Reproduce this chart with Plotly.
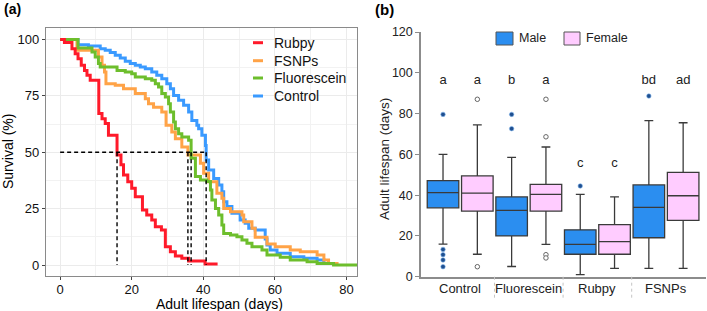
import plotly.graph_objects as go

# ---------------- data ----------------
# Panel (a): Kaplan-Meier style survival steps (day, survival %)
rubpy_t = [0, 1.2, 3.3, 4.2, 5.0, 5.9, 6.8, 7.5, 8.4, 10.8, 11.7, 12.6, 13.5, 15.9, 17.0, 17.7, 18.9, 20.0, 21.0,
           23.0, 24.2, 25.6, 26.6, 28.3, 29.4, 30.8, 32.2, 34.0, 35.9, 40.5, 44.0]
rubpy_s = [100, 98.7, 95.9, 93.7, 91.5, 88.6, 86.3, 84.1, 81.9, 67.2, 64.9, 62.7, 57.5, 48.8, 44.5, 39.9, 36.9, 34.0,
           30.3, 24.4, 22.2, 20.0, 17.0, 15.5, 8.1, 5.9, 4.0, 3.0, 1.8, 0.4, 0.4]

fsnps_t = [0, 4.7, 10.7, 11.7, 12.4, 12.8, 15.4, 17.7, 21.0, 23.8, 24.7, 26.1, 28.4, 29.6, 31.2, 32.2, 34.0, 35.7,
           39.2, 40.1, 41.5, 43.8, 45.2, 45.7, 47.6, 50.8, 51.3, 53.6, 54.5, 57.8, 60.1, 64.3, 67.1, 71.8, 73.7,
           75.0, 77.8]
fsnps_s = [100, 95.2, 92.2, 88.6, 85.6, 80.4, 79.7, 78.2, 76.0, 73.7, 71.5, 70.0, 67.8, 62.0, 59.0, 56.0, 52.3, 48.8,
           45.1, 40.7, 36.9, 31.8, 29.6, 25.1, 23.6, 22.2, 19.2, 16.3, 12.3, 9.3, 8.1, 6.7, 5.9, 4.4, 2.2, 0.7, 0.7]

fluo_t = [0, 5.0, 8.9, 9.8, 10.7, 11.2, 15.9, 18.2, 20.0, 21.0, 23.8, 25.6, 26.6, 27.5, 28.4, 29.4, 30.3, 30.8,
          31.7, 32.2, 33.1, 34.0, 35.9, 36.6, 37.8, 39.2, 41.0, 42.0, 42.4, 43.4, 44.3, 45.2, 45.7, 47.6, 49.4,
          50.8, 52.2, 53.6, 56.4, 57.8, 61.5, 64.3, 69.0, 71.8, 76.4, 84.0]
fluo_s = [100, 96.2, 94.5, 92.2, 89.3, 87.8, 86.3, 85.6, 84.8, 83.4, 82.6, 81.9, 80.4, 78.9, 76.0, 74.5, 71.5, 67.8,
          63.4, 60.4, 58.2, 56.8, 55.3, 47.3, 39.2, 37.7, 37.0, 33.3, 28.8, 25.1, 22.2, 17.7, 14.0, 13.3, 12.5,
          11.1, 9.6, 8.1, 6.7, 4.4, 3.4, 2.2, 1.5, 0.7, 0.0, 0.0]

ctrl_t = [0, 5.0, 7.9, 11.2, 12.6, 14.0, 15.4, 16.8, 18.2, 19.6, 21.0, 22.4, 23.8, 25.6, 27.0, 28.4, 29.8, 30.8,
          31.7, 33.1, 34.5, 35.9, 36.8, 38.2, 38.7, 39.6, 40.6, 40.8, 41.5, 42.9, 44.3, 45.2, 45.7, 46.6, 48.0,
          50.3, 51.7, 52.7, 54.5, 57.3, 57.8, 58.7, 60.6, 64.3, 68.1, 71.8, 73.7, 75.5]
ctrl_s = [100, 97.7, 97.1, 95.9, 95.2, 94.2, 93.0, 91.8, 90.3, 89.3, 88.6, 87.8, 87.0, 85.6, 84.1, 82.6, 80.4, 78.2,
          75.2, 73.0, 70.8, 67.8, 64.1, 62.0, 60.4, 57.5, 53.0, 46.6, 42.1, 38.4, 35.5, 32.5, 28.1, 25.9, 22.9,
          20.0, 18.5, 16.3, 15.5, 11.5, 8.9, 6.7, 5.2, 3.7, 3.0, 2.2, 0.7, 0.7]

median_days = [15.9, 35.7, 36.6, 40.8]   # Rubpy, FSNPs, Fluorescein, Control

# Panel (b): box-plot statistics
groups = ["Control", "Fluorescein", "Rubpy", "FSNPs"]
male_q1 = [33.8, 20.0, 11.0, 19.1]
male_med = [41.2, 32.5, 15.9, 34.0]
male_q3 = [47.1, 39.1, 23.0, 45.0]
male_lo = [16.0, 5.0, 1.0, 4.1]
male_hi = [60.0, 58.5, 40.4, 76.5]
male_out_g = [0, 0, 0, 0, 0, 1, 1, 2, 3]
male_out_v = [79.6, 13.4, 10.8, 8.2, 4.9, 79.6, 72.6, 44.5, 88.6]

female_q1 = [32.2, 32.2, 11.0, 27.6]
female_med = [41.0, 40.4, 17.2, 39.7]
female_q3 = [49.4, 45.3, 25.5, 51.2]
female_lo = [11.0, 15.9, 4.1, 4.1]
female_hi = [74.5, 63.6, 39.1, 75.5]
female_out_g = [0, 0, 1, 1, 1, 1]
female_out_v = [87.0, 4.9, 87.0, 68.6, 10.8, 9.2]

male_letters = ["a", "b", "c", "bd"]
female_letters = ["a", "a", "c", "ad"]
male_letter_y = [96, 96, 55.3, 96]
female_letter_y = [96, 96, 55.3, 96]

# ---------------- styling helpers ----------------
W, H = 707, 311
def PX(x): return x / W
def PY(y): return 1 - y / H

RED, ORANGE, GREEN, BLUE = "#FF1A2A", "#FFA347", "#6DBE2C", "#3A9AFF"
MALE_FILL, FEMALE_FILL = "#2B8EF0", "#FFCCFF"
FONT = "Liberation Sans, Arial, sans-serif"

fig = go.Figure()

# ---------------- panel (a) ----------------
for name, t, s, c in [("Control", ctrl_t, ctrl_s, BLUE), ("FSNPs", fsnps_t, fsnps_s, ORANGE),
                      ("Fluorescein", fluo_t, fluo_s, GREEN), ("Rubpy", rubpy_t, rubpy_s, RED)]:
    fig.add_trace(go.Scatter(x=t, y=s, mode="lines", line=dict(color=c, width=3, shape="hv"),
                             name=name, showlegend=False, xaxis="x", yaxis="y"))

# median reference lines
fig.add_trace(go.Scatter(x=[0, max(median_days)], y=[50, 50], mode="lines",
                         line=dict(color="black", width=1.4, dash="4px,3px"), showlegend=False))
for m in median_days:
    fig.add_trace(go.Scatter(x=[m, m], y=[50, 0], mode="lines",
                             line=dict(color="black", width=1.4, dash="4px,3px"), showlegend=False))

# ---------------- panel (b) ----------------
male_x = [i - 0.25 for i in range(len(groups))]
female_x = [i + 0.25 for i in range(len(groups))]

fig.add_trace(go.Box(x=male_x, q1=male_q1, median=male_med, q3=male_q3, lowerfence=male_lo,
                     upperfence=male_hi, width=0.46, whiskerwidth=0.28, boxpoints=False,
                     fillcolor=MALE_FILL, line=dict(color="#3a3a3a", width=1.3),
                     name="Male", showlegend=False, xaxis="x2", yaxis="y2"))
fig.add_trace(go.Box(x=female_x, q1=female_q1, median=female_med, q3=female_q3, lowerfence=female_lo,
                     upperfence=female_hi, width=0.46, whiskerwidth=0.28, boxpoints=False,
                     fillcolor=FEMALE_FILL, line=dict(color="#3a3a3a", width=1.3),
                     name="Female", showlegend=False, xaxis="x2", yaxis="y2"))

fig.add_trace(go.Scatter(x=[male_x[g] for g in male_out_g], y=male_out_v, mode="markers",
                         marker=dict(size=4.5, color="#1F4F8F", line=dict(color="#7fb6ee", width=0.6)),
                         showlegend=False, xaxis="x2", yaxis="y2"))
fig.add_trace(go.Scatter(x=[female_x[g] for g in female_out_g], y=female_out_v, mode="markers",
                         marker=dict(size=4.5, color="white", line=dict(color="#666666", width=1)),
                         showlegend=False, xaxis="x2", yaxis="y2"))

fig.add_trace(go.Scatter(x=male_x + female_x, y=male_letter_y + female_letter_y, mode="text",
                         text=male_letters + female_letters, textposition="middle center",
                         textfont=dict(family=FONT, size=13, color="#222222"),
                         showlegend=False, xaxis="x2", yaxis="y2"))

shapes = []
annotations = []

# group separators below x axis of panel (b)
for sx in [0.5, 1.5, 2.5]:
    shapes.append(dict(type="line", xref="x2", yref="y2 domain", x0=sx, x1=sx, y0=0, y1=-0.088,
                       line=dict(color="#c4c4c4", width=1, dash="dot")))
# category labels
for i, g in enumerate(groups):
    annotations.append(dict(x=i, y=PY(288), xref="x2", yref="paper", text=g, showarrow=False,
                            font=dict(family=FONT, size=13, color="#222222"),
                            xanchor="center", yanchor="middle"))

# legend of panel (a)
leg_a = [("Rubpy", RED, 42.7), ("FSNPs", ORANGE, 60.7), ("Fluorescein", GREEN, 78.0), ("Control", BLUE, 96.0)]
for name, c, yy in leg_a:
    shapes.append(dict(type="line", xref="paper", yref="paper", x0=PX(253), x1=PX(263), y0=PY(yy), y1=PY(yy),
                       line=dict(color=c, width=3)))
    annotations.append(dict(x=PX(272), y=PY(yy), xref="paper", yref="paper", text=name, showarrow=False,
                            font=dict(family=FONT, size=14, color="#111111"), xanchor="left", yanchor="middle"))

# legend of panel (b)
for name, c, x0, x1, tx in [("Male", MALE_FILL, 496, 513, 517), ("Female", FEMALE_FILL, 564, 580, 584)]:
    shapes.append(dict(type="rect", xref="paper", yref="paper", x0=PX(x0), x1=PX(x1), y0=PY(45), y1=PY(32),
                       fillcolor=c, line=dict(color="#555555", width=1)))
    annotations.append(dict(x=PX(tx), y=PY(38.5), xref="paper", yref="paper", text=name, showarrow=False,
                            font=dict(family=FONT, size=12.5, color="#222222"), xanchor="left", yanchor="middle"))

# panel labels and axis titles
annotations += [
    dict(x=PX(12), y=PY(9), xref="paper", yref="paper", text="<b>(a)</b>", showarrow=False,
         font=dict(family=FONT, size=14, color="black"), xanchor="center", yanchor="middle"),
    dict(x=PX(384), y=PY(9), xref="paper", yref="paper", text="<b>(b)</b>", showarrow=False,
         font=dict(family=FONT, size=15, color="black"), xanchor="center", yanchor="middle"),
    dict(x=PX(8), y=PY(152), xref="paper", yref="paper", text="Survival (%)", showarrow=False, textangle=-90,
         font=dict(family=FONT, size=14, color="black"), xanchor="center", yanchor="middle"),
    dict(x=PX(219), y=PY(303.5), xref="paper", yref="paper", text="Adult lifespan (days)", showarrow=False,
         font=dict(family=FONT, size=14, color="black"), xanchor="center", yanchor="middle"),
    dict(x=PX(384), y=PY(159), xref="paper", yref="paper", text="Adult lifespan (days)", showarrow=False,
         textangle=-90, font=dict(family=FONT, size=13.5, color="#222222"), xanchor="center", yanchor="middle"),
]

grid = "#EBEBEB"
fig.update_layout(
    width=W, height=H, margin=dict(l=0, r=0, t=0, b=0, pad=0, autoexpand=False),
    paper_bgcolor="white", plot_bgcolor="white", showlegend=False,
    font=dict(family=FONT, size=13, color="#222222"),
    xaxis=dict(domain=[PX(46), PX(357)], range=[-3.95, 82.95], tickvals=[0, 20, 40, 60, 80],
               showgrid=True, gridcolor=grid, gridwidth=1, zeroline=False, automargin=False,
               minor=dict(dtick=10, tick0=0, showgrid=True, gridcolor="#F2F2F2", gridwidth=0.6),
               showline=True, mirror=True, linecolor="#8a8a8a", linewidth=1.2,
               ticks="outside", ticklen=3, tickcolor="#444444", anchor="y", ticklabelstandoff=-2,
               tickfont=dict(family=FONT, size=13, color="#111111")),
    yaxis=dict(domain=[PY(276.3), PY(28.2)], range=[-5, 105], tickvals=[0, 25, 50, 75, 100],
               showgrid=True, gridcolor=grid, gridwidth=1, zeroline=False, automargin=False,
               minor=dict(dtick=12.5, tick0=0, showgrid=True, gridcolor="#F2F2F2", gridwidth=0.6),
               showline=True, mirror=True, linecolor="#8a8a8a", linewidth=1.2,
               ticks="outside", ticklen=3, tickcolor="#444444", anchor="x",
               tickfont=dict(family=FONT, size=13, color="#111111")),
    xaxis2=dict(domain=[PX(421), PX(706)], range=[-0.571, 3.583], showgrid=False, zeroline=False,
                showline=True, linecolor="#8c8c8c", linewidth=1.5, showticklabels=False, ticks="",
                anchor="y2", automargin=False),
    yaxis2=dict(domain=[PY(276.7), PY(32)], range=[0, 120], dtick=20, showgrid=False, zeroline=False,
                showline=True, linecolor="#8c8c8c", linewidth=1.5, ticks="outside", ticklen=4,
                tickcolor="#8c8c8c", tickfont=dict(family=FONT, size=12.5, color="#222222"),
                anchor="x2", automargin=False),
    shapes=shapes, annotations=annotations,
)

fig.write_html("out.html", config={"displayModeBar": False},
               post_script="document.body.style.margin='0';document.body.style.padding='0';"
                           "document.body.style.overflow='hidden';")
